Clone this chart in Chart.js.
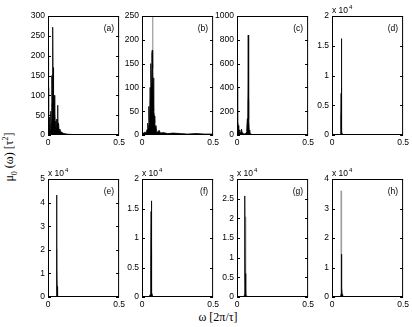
<!DOCTYPE html>
<html>
<head>
<meta charset="utf-8">
<script src="https://cdn.jsdelivr.net/npm/chart.js@4.4.0/dist/chart.umd.min.js"></script>
<style>
html, body { margin: 0; padding: 0; background: #fff; }
#wrap { position: relative; width: 412px; height: 327px; overflow: hidden; }
#wrap canvas { position: absolute; }
.ttl { position: absolute; font-family: "Liberation Serif", "DejaVu Serif", serif; font-size: 12px; color: #000; white-space: nowrap; }
.ttl sub, .ttl sup { font-size: 8px; }
</style>
</head>
<body>
<div id="wrap">
  <div class="ttl" id="ytitle">&mu;<sub>0</sub> (&omega;) [&tau;<sup>2</sup>]</div>
  <div class="ttl" id="xtitle">&omega; [2&pi;/&tau;]</div>
</div>
<script>
// frequency grids (units of 2pi/tau) and spectra, panel by panel
const freqA = [0, 0.003, 0.006, 0.009, 0.012, 0.015, 0.018, 0.021, 0.024, 0.027, 0.030, 0.032, 0.034, 0.036, 0.038, 0.040, 0.043, 0.046, 0.049, 0.052, 0.055, 0.058, 0.061, 0.064, 0.067, 0.070, 0.074, 0.078, 0.083, 0.090, 0.100, 0.110, 0.120, 0.140, 0.160, 0.200, 0.300, 0.500];
const blackA = [120, 25, 50, 15, 45, 12, 35, 60, 20, 150, 90, 175, 272, 120, 170, 60, 100, 30, 45, 20, 35, 15, 40, 25, 75, 20, 30, 12, 15, 8, 6, 4, 3, 2, 1.5, 1, 0.5, 0.3];
const grayA = [205, 30, 20, 10, 25, 8, 20, 30, 12, 80, 50, 100, 150, 70, 90, 30, 50, 15, 25, 12, 20, 10, 25, 15, 40, 12, 15, 8, 8, 5, 4, 3, 2, 1, 1, 0.5, 0.3, 0.2];

const freqB = [0, 0.010, 0.020, 0.030, 0.036, 0.040, 0.044, 0.048, 0.051, 0.054, 0.057, 0.060, 0.063, 0.066, 0.069, 0.072, 0.075, 0.078, 0.081, 0.084, 0.087, 0.090, 0.094, 0.098, 0.103, 0.110, 0.120, 0.130, 0.150, 0.180, 0.220, 0.270, 0.320, 0.380, 0.440, 0.500];
const blackB = [3, 4, 6, 5, 12, 25, 15, 60, 30, 45, 100, 60, 150, 110, 170, 178, 140, 90, 120, 50, 40, 25, 15, 20, 8, 6, 10, 4, 5, 3, 4, 3, 2, 3, 2, 2];
const grayB = [2, 2, 3, 3, 4, 8, 6, 20, 10, 15, 30, 20, 50, 40, 60, 80, 300, 40, 50, 20, 12, 8, 5, 6, 3, 2, 4, 2, 2, 1, 2, 1, 1, 1, 1, 1];

const freqC = [0, 0.003, 0.006, 0.009, 0.012, 0.016, 0.020, 0.024, 0.028, 0.032, 0.036, 0.040, 0.045, 0.050, 0.055, 0.060, 0.065, 0.069, 0.072, 0.075, 0.077, 0.079, 0.081, 0.083, 0.086, 0.090, 0.095, 0.100, 0.110, 0.120, 0.140, 0.170, 0.200, 0.300, 0.500];
const blackC = [400, 200, 120, 80, 60, 40, 30, 20, 25, 50, 15, 20, 10, 8, 12, 10, 20, 60, 130, 140, 120, 840, 135, 130, 40, 20, 10, 6, 4, 3, 2, 1, 1, 0.5, 0.5];
const grayC = [560, 100, 60, 40, 30, 20, 15, 10, 12, 25, 8, 10, 5, 4, 6, 5, 10, 30, 60, 80, 70, 300, 260, 70, 20, 10, 5, 3, 2, 1, 1, 0.5, 0.5, 0.2, 0.2];

const freqD = [0, 0.050, 0.058, 0.061, 0.063, 0.064, 0.065, 0.066, 0.067, 0.068, 0.070, 0.073, 0.080, 0.100, 0.200, 0.500];
const blackD = [0, 20, 100, 400, 3000, 7000, 16200, 7200, 5000, 1500, 500, 200, 50, 10, 5, 0];
const grayD = [0, 10, 50, 200, 1500, 3500, 8000, 3600, 2500, 700, 250, 100, 25, 5, 2, 0];

const freqE = [0, 0.050, 0.058, 0.060, 0.061, 0.062, 0.063, 0.064, 0.065, 0.067, 0.070, 0.075, 0.080, 0.100, 0.200, 0.500];
const blackE = [0, 30, 300, 1500, 17000, 43200, 12000, 4500, 2000, 800, 300, 100, 40, 10, 5, 0];
const grayE = [0, 15, 150, 700, 8000, 20000, 6000, 2000, 1000, 400, 150, 50, 20, 5, 2, 0];

const freqF = [0, 0.050, 0.057, 0.060, 0.062, 0.063, 0.064, 0.065, 0.066, 0.067, 0.068, 0.070, 0.073, 0.080, 0.100, 0.200, 0.500];
const blackF = [0, 30, 400, 1500, 3000, 8000, 14500, 16300, 9000, 3200, 2000, 800, 300, 60, 15, 5, 0];
const grayF = [0, 15, 200, 700, 1500, 4000, 7000, 8000, 4500, 1600, 1000, 400, 150, 30, 8, 2, 0];

const freqG = [0, 0.040, 0.050, 0.053, 0.055, 0.056, 0.057, 0.059, 0.061, 0.062, 0.063, 0.065, 0.068, 0.075, 0.100, 0.200, 0.500];
const blackG = [0, 20, 300, 2000, 6500, 25700, 6000, 1500, 1000, 800, 500, 300, 100, 30, 10, 5, 0];
const grayG = [0, 10, 100, 300, 500, 800, 600, 400, 900, 20400, 900, 300, 100, 30, 10, 5, 0];

const freqH = [0, 0.050, 0.060, 0.062, 0.063, 0.064, 0.065, 0.066, 0.067, 0.068, 0.069, 0.070, 0.072, 0.075, 0.080, 0.100, 0.200, 0.500];
const blackH = [0, 20, 200, 500, 800, 1000, 1500, 2000, 7500, 3000, 14500, 3000, 800, 200, 50, 10, 5, 0];
const grayH = [0, 10, 100, 300, 500, 36000, 36000, 36000, 3000, 1000, 800, 500, 300, 100, 30, 5, 2, 0];

const panelTags = ['(a)', '(b)', '(c)', '(d)', '(e)', '(f)', '(g)', '(h)'];
const yMaxes = [300, 250, 1000, 20000, 50000, 20000, 30000, 40000];
const ySteps = [50, 50, 200, 5000, 10000, 5000, 5000, 10000];
const xTicks = [0, 0.5];

const freqs = [freqA, freqB, freqC, freqD, freqE, freqF, freqG, freqH];
const blacks = [blackA, blackB, blackC, blackD, blackE, blackF, blackG, blackH];
const grays = [grayA, grayB, grayC, grayD, grayE, grayF, grayG, grayH];

// layout of the axes boxes
const colLeft = [48, 142, 237, 332];
const rowTop = [16, 179];
const rowHeight = [119, 118];
const boxWidth = 72;
const padL = 40, padT = 18, padR = 8, padB = 20;
const tickFont = { family: '"Liberation Sans", Arial, sans-serif', size: 8.5 };

const boxPlugin = {
    id: 'matlabBox',
    afterDatasetsDraw(chart, args, opts) {
        const ctx = chart.ctx;
        const a = chart.chartArea;
        const y = chart.scales.y;
        ctx.save();
        ctx.strokeStyle = '#000';
        ctx.lineWidth = 1;
        ctx.strokeRect(a.left + 0.5, a.top + 0.5, a.right - a.left - 1, a.bottom - a.top - 1);
        ctx.beginPath();
        y.ticks.forEach(t => {
            const py = Math.round(y.getPixelForValue(t.value)) + 0.5;
            ctx.moveTo(a.left, py);
            ctx.lineTo(a.left + 3, py);
            ctx.moveTo(a.right, py);
            ctx.lineTo(a.right - 3, py);
        });
        ctx.stroke();

        ctx.fillStyle = '#000';
        ctx.font = '8.5px "Liberation Sans", Arial, sans-serif';
        ctx.textAlign = 'right';
        ctx.textBaseline = 'middle';
        ctx.fillText(opts.tag, a.right - 5, a.top + 13);

        if (opts.exp) {
            ctx.textAlign = 'left';
            ctx.textBaseline = 'alphabetic';
            ctx.fillText('x 10', a.left, a.top - 3);
            const w = ctx.measureText('x 10').width;
            ctx.font = '6px "Liberation Sans", Arial, sans-serif';
            ctx.fillText('4', a.left + w + 1, a.top - 7);
        }
        ctx.restore();
    }
};

const wrap = document.getElementById('wrap');

for (let i = 0; i < 8; i++) {
    const row = Math.floor(i / 4);
    const col = i % 4;
    const h = rowHeight[row];
    const canvas = document.createElement('canvas');
    canvas.width = padL + boxWidth + padR;
    canvas.height = padT + h + padB;
    canvas.style.left = (colLeft[col] - padL) + 'px';
    canvas.style.top = (rowTop[row] - padT) + 'px';
    canvas.style.width = canvas.width + 'px';
    canvas.style.height = canvas.height + 'px';
    wrap.appendChild(canvas);

    const isExp = yMaxes[i] >= 10000;
    const toPts = arr => freqs[i].map((f, k) => ({ x: f, y: arr[k] }));

    new Chart(canvas.getContext('2d'), {
        type: 'scatter',
        data: {
            datasets: [{
                data: toPts(blacks[i]),
                showLine: true,
                borderColor: '#000',
                backgroundColor: '#000',
                borderWidth: 0.8,
                pointRadius: 0,
                fill: 'origin',
                order: 0
            }, {
                data: toPts(grays[i]),
                showLine: true,
                borderColor: '#9c9c9c',
                backgroundColor: '#9c9c9c',
                borderWidth: 0.8,
                pointRadius: 0,
                fill: 'origin',
                order: 1
            }]
        },
        options: {
            responsive: false,
            animation: false,
            events: [],
            layout: { padding: { top: padT, right: padR, left: 0, bottom: 0 } },
            plugins: {
                legend: { display: false },
                tooltip: { enabled: false },
                matlabBox: { tag: panelTags[i], exp: isExp }
            },
            scales: {
                x: {
                    type: 'linear',
                    min: 0,
                    max: 0.5,
                    afterBuildTicks: s => { s.ticks = xTicks.map(v => ({ value: v })); },
                    afterFit: s => { s.height = padB; },
                    grid: { display: false, drawTicks: false },
                    border: { display: false },
                    ticks: { color: '#000', font: tickFont, padding: 3, maxRotation: 0, autoSkip: false,
                        callback: v => String(v) }
                },
                y: {
                    min: 0,
                    max: yMaxes[i],
                    afterFit: s => { s.width = padL; },
                    grid: { display: false, drawTicks: false },
                    border: { display: false },
                    ticks: { color: '#000', font: tickFont, padding: 3, stepSize: ySteps[i], autoSkip: false,
                        callback: v => isExp ? String(v / 10000) : String(v) }
                }
            }
        },
        plugins: [boxPlugin]
    });
}

const yt = document.getElementById('ytitle');
yt.style.left = '10px';
yt.style.top = '157px';
yt.style.transform = 'translate(-50%, -50%) rotate(-90deg)';
const xt = document.getElementById('xtitle');
xt.style.left = '218px';
xt.style.top = '317px';
xt.style.transform = 'translate(-50%, -50%)';
</script>
</body>
</html>
